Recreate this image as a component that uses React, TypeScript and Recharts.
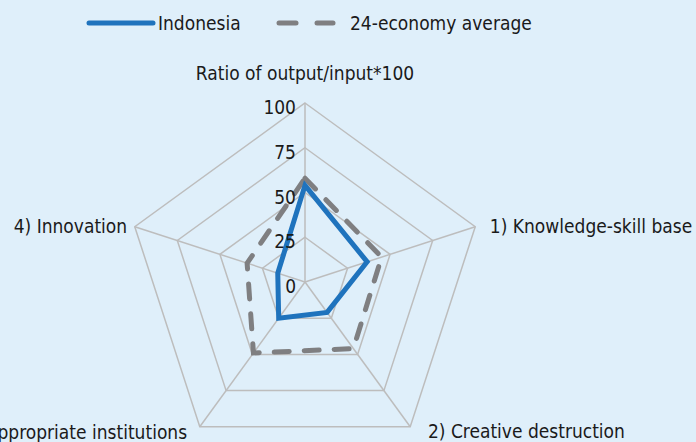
import React from 'react';
import { RadarChart, Radar, PolarGrid, PolarAngleAxis, PolarRadiusAxis } from 'recharts';

const categories = [
  'Ratio of output/input*100',
  '1) Knowledge-skill base',
  '2) Creative destruction',
  '3) Appropriate institutions',
  '4) Innovation',
];
const indonesia = [54, 36.5, 21, 25, 16];
const average = [58, 45, 46, 49, 34];
const radiusTicks = [0, 25, 50, 75, 100];

const data = categories.map((c, i) => ({ name: c, indonesia: indonesia[i], average: average[i] }));

const FONT = '"Liberation Sans Narrow", "DejaVu Sans Condensed", "Noto Sans", sans-serif';
const BG = '#dfeffa';
const BLUE = '#1f73bd';
const GRAY = '#7f7f81';

const labelOffsets = [
  { dx: 0, dy: -22, anchor: 'middle' },
  { dx: 7, dy: 2, anchor: 'start' },
  { dx: 13, dy: -2, anchor: 'start' },
  { dx: -8, dy: -1, anchor: 'end' },
  { dx: 0, dy: 2, anchor: 'end' },
];

const AngleTick = (props: any) => {
  const { x, y, payload, index } = props;
  const o = labelOffsets[index] || labelOffsets[0];
  return (
    <text x={x + o.dx} y={y + o.dy} textAnchor={o.anchor} dominantBaseline="central"
      fontFamily={FONT} fontSize={19} fill="#1a1a1a">
      {payload.value}
    </text>
  );
};

const RadiusTick = (props: any) => {
  const { x, y, payload } = props;
  return (
    <text x={x - 9} y={y + 4} textAnchor="end" dominantBaseline="central"
      fontFamily={FONT} fontSize={19} fill="#1a1a1a">
      {payload.value}
    </text>
  );
};

export default function App() {
  return (
    <div style={{ position: 'absolute', left: 0, top: 0, width: 696, height: 442, background: BG, overflow: 'hidden' }}>
      <div style={{ position: 'absolute', left: 0, top: 0, width: 696, height: 46, fontFamily: FONT, fontSize: 19, color: '#1a1a1a' }}>
        <svg width={696} height={46} style={{ position: 'absolute', left: 0, top: 0 }}>
          <line x1={89} y1={23} x2={153} y2={23} stroke={BLUE} strokeWidth={5} strokeLinecap="round" />
          <line x1={279} y1={23} x2={296} y2={23} stroke={GRAY} strokeWidth={5} strokeLinecap="round" />
          <line x1={317} y1={23} x2={333} y2={23} stroke={GRAY} strokeWidth={5} strokeLinecap="round" />
          <text x={158} y={23} dominantBaseline="central" fontFamily={FONT} fontSize={19} fill="#1a1a1a">Indonesia</text>
          <text x={350} y={23} dominantBaseline="central" fontFamily={FONT} fontSize={19} fill="#1a1a1a">24-economy average</text>
        </svg>
      </div>
      <div style={{ position: 'absolute', left: 0, top: 0 }}>
        <RadarChart width={696} height={442} data={data} cx={305} cy={282} outerRadius={179}
          margin={{ top: 0, right: 0, bottom: 0, left: 0 }}>
          <PolarGrid gridType="polygon" stroke="#bdbdbd" strokeWidth={1.5} />
          <PolarAngleAxis dataKey="name" tick={AngleTick} tickLine={false} axisLine={false} />
          <PolarRadiusAxis angle={90} domain={[0, 100]} ticks={radiusTicks as any} tickCount={5}
            axisLine={false} tickLine={false} tick={RadiusTick} />
          <Radar name="24-economy average" dataKey="average" stroke={GRAY} strokeWidth={5}
            strokeDasharray="15 15" strokeLinecap="round" fill="none" fillOpacity={0} isAnimationActive={false} />
          <Radar name="Indonesia" dataKey="indonesia" stroke={BLUE} strokeWidth={5}
            strokeLinejoin="miter" fill="none" fillOpacity={0} isAnimationActive={false} />
        </RadarChart>
      </div>
    </div>
  );
}
